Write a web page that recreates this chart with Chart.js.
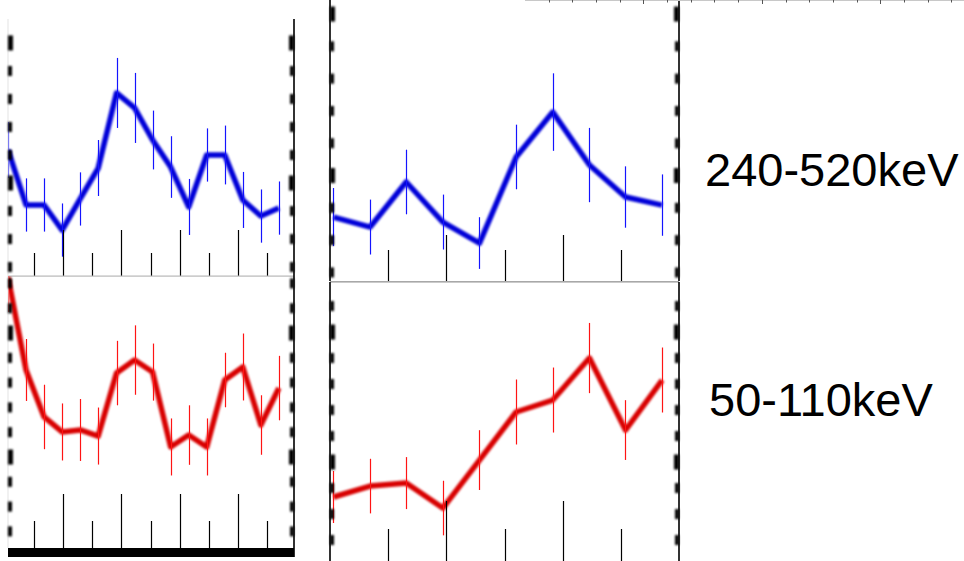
<!DOCTYPE html>
<html>
<head>
<meta charset="utf-8">
<script src="https://cdn.jsdelivr.net/npm/chart.js@4/dist/chart.umd.min.js"></script>
<style>
  html, body { margin: 0; padding: 0; background: #fff; width: 964px; height: 561px; overflow: hidden; }
  canvas { position: absolute; }
  .band { position: absolute; font-family: "Liberation Sans", Arial, sans-serif; font-size: 47px; line-height: 47px; color: #000; white-space: nowrap; }
</style>
</head>
<body>
<canvas id="tl"></canvas>
<canvas id="bl"></canvas>
<canvas id="tr"></canvas>
<canvas id="br"></canvas>
<canvas id="strip"></canvas>
<div class="band" id="band0" style="left:705px; top:146px;"></div>
<div class="band" id="band1" style="left:709px; top:376px;"></div>
<script>
// Energy band names shown at the right of each row
const bandLabels = ['240-520keV', '50-110keV'];

// Burst A: bin-centre times (s)
const burstATime = [0.10, 0.72, 1.34, 1.96, 2.58, 3.20, 3.83, 4.45, 5.07, 5.69, 6.31, 6.93, 7.55, 8.17, 8.79, 9.41];
// Burst A, 240-520 keV counts and 1-sigma errors
const burstAHigh    = [223.6, 184.3, 184.3, 166.4, 188.6, 210.7, 264.3, 253.6, 230.7, 211.4, 182.9, 220.0, 220.0, 187.9, 176.4, 182.1];
const burstAHighErr = [20, 19, 19, 19, 19, 20, 25, 25, 21, 22, 20, 19, 21, 20, 19, 19];
// Burst A, 50-110 keV counts and 1-sigma errors
const burstALow     = [545.0, 470.2, 432.3, 420.2, 421.8, 416.9, 467.7, 478.2, 468.5, 408.1, 417.7, 408.1, 462.1, 472.6, 425.8, 455.6];
const burstALowErr  = [28, 25, 26, 23, 25, 23, 26, 28, 23, 23, 24, 23, 22, 27, 24, 26];

// Burst B: bin-centre times (s)
const burstBTime = [0.06, 0.69, 1.31, 1.94, 2.57, 3.20, 3.83, 4.46, 5.08, 5.71];
// Burst B, 240-520 keV counts and 1-sigma errors
const burstBHigh    = [174.3, 168.1, 196.0, 171.2, 158.2, 211.5, 239.3, 206.5, 186.7, 181.7];
const burstBHighErr = [18, 17, 20, 17, 16, 20, 24, 23, 19, 19];
// Burst B, 50-110 keV counts and 1-sigma errors
const burstBLow     = [373.1, 381.5, 383.8, 364.6, 401.5, 438.5, 447.7, 480.0, 424.6, 463.1];
const burstBLowErr  = [20, 21, 20, 21, 23, 25, 25, 27, 23, 25];

document.getElementById('band0').textContent = bandLabels[0];
document.getElementById('band1').textContent = bandLabels[1];

const PAD = 14;
const X_STEP = 1, X_MAJOR = 2;
const Y_STEP = 20, Y_MAJOR = 100;

function onStep(v, step) {
  const r = v / step;
  return Math.abs(r - Math.round(r)) < 1e-6;
}

// Soft line, error bars, and the inward-pointing frame ticks
const panelPlugin = {
  id: 'panelFrame',
  beforeDatasetsDraw(chart) {
    chart.ctx.save();
    chart.ctx.filter = 'blur(1.3px)';
  },
  afterDatasetsDraw(chart, args, opts) {
    const ctx = chart.ctx;
    ctx.restore();
    const xs = chart.scales.x, ys = chart.scales.y;
    const a = chart.chartArea;
    // error bars
    if (opts.err) {
      ctx.save();
      ctx.beginPath();
      ctx.rect(a.left, a.top, a.right - a.left, a.bottom - a.top);
      ctx.clip();
      ctx.strokeStyle = opts.color;
      ctx.lineWidth = 1.2;
      const ds = chart.data.datasets[0].data;
      ds.forEach((pt, i) => {
        const px = Math.round(xs.getPixelForValue(pt.x)) + 0.5;
        ctx.beginPath();
        ctx.moveTo(px, ys.getPixelForValue(pt.y + opts.err[i]));
        ctx.lineTo(px, ys.getPixelForValue(pt.y - opts.err[i]));
        ctx.stroke();
      });
      ctx.restore();
    }
  },
  afterDraw(chart, args, opts) {
    const ctx = chart.ctx;
    const a = chart.chartArea;
    const xs = chart.scales.x, ys = chart.scales.y;
    ctx.save();
    // bottom-axis ticks pointing up into the plot
    if (opts.xTicks) {
      const t = opts.xTicks;
      ctx.strokeStyle = '#000';
      ctx.lineWidth = 1.2;
      xs.ticks.forEach(tk => {
        const v = tk.value;
        if (!onStep(v, X_STEP) || v <= xs.min || v >= xs.max) return;
        const len = onStep(v, X_MAJOR) ? t.major : t.minor;
        const px = Math.round(xs.getPixelForValue(v)) + 0.5;
        ctx.beginPath();
        ctx.moveTo(px, a.bottom);
        ctx.lineTo(px, a.bottom - len);
        ctx.stroke();
      });
    }
    // bottom edge
    if (opts.bottom) {
      ctx.fillStyle = opts.bottom.color;
      ctx.fillRect(a.left, a.bottom - opts.bottom.up, a.right - a.left, opts.bottom.size);
    }
    // vertical edges
    (opts.sides || []).forEach(s => {
      const x = s.side === 'left' ? a.left : a.right;
      if (s.line) {
        ctx.fillStyle = s.line;
        ctx.fillRect(x - s.lineWidth / 2, a.top, s.lineWidth, a.bottom - a.top + (s.lineExtra || 0));
      }
      // blurred tick blobs on the value axis
      ctx.save();
      ctx.filter = 'blur(1.3px)';
      ctx.fillStyle = '#000';
      ys.ticks.forEach(tk => {
        const v = tk.value;
        if (!onStep(v, Y_STEP) || v <= ys.min || v >= ys.max) return;
        const major = onStep(v, Y_MAJOR);
        const w = major ? 5 : 4;
        const h = major ? 15 : 10;
        const py = ys.getPixelForValue(v);
        const x0 = s.side === 'left' ? x : x - w;
        ctx.fillRect(x0, py - h / 2, w, h);
      });
      ctx.restore();
    });
    ctx.restore();
  }
};

function makePanel(p) {
  const canvas = document.getElementById(p.id);
  canvas.width = p.w + 2 * PAD;
  canvas.height = p.h + 2 * PAD;
  canvas.style.left = (p.left - PAD) + 'px';
  canvas.style.top = (p.top - PAD) + 'px';
  new Chart(canvas, {
    type: 'line',
    data: {
      datasets: [{
        data: p.time.map((t, i) => ({ x: t, y: p.values[i] })),
        borderColor: p.color,
        borderWidth: 5.5,
        borderJoinStyle: 'round',
        pointRadius: 0,
        tension: 0,
        fill: false,
        clip: { left: 0, top: 0, right: 6, bottom: 6 }
      }]
    },
    options: {
      responsive: false,
      animation: false,
      devicePixelRatio: 1,
      parsing: false,
      normalized: true,
      layout: { padding: PAD },
      plugins: {
        legend: { display: false },
        tooltip: { enabled: false },
        panelFrame: {
          err: p.err, color: p.barColor,
          xTicks: p.xTicks, bottom: p.bottom, sides: p.sides
        }
      },
      scales: {
        x: { type: 'linear', display: false, min: p.xMin, max: p.xMax, ticks: { stepSize: X_STEP, includeBounds: false } },
        y: { type: 'linear', display: false, min: p.yMin, max: p.yMax, ticks: { stepSize: Y_STEP, includeBounds: false } }
      }
    },
    plugins: [panelPlugin]
  });
}

const BLUE = '#0000d8', RED = '#d80000';

makePanel({
  id: 'tl', left: 8, top: 19, w: 286, h: 257,
  time: burstATime, values: burstAHigh, err: burstAHighErr,
  color: BLUE, barColor: '#1414ff',
  xMin: 0.10, xMax: 9.93, yMin: 133.6, yMax: 317.1,
  xTicks: { minor: 23, major: 46 },
  bottom: { color: '#b8b8b8', up: 0.5, size: 1.2 },
  sides: [
    { side: 'left', line: '#e4e4e4', lineWidth: 1 },
    { side: 'right', line: '#000', lineWidth: 1.6 }
  ]
});

makePanel({
  id: 'bl', left: 8, top: 276, w: 286, h: 272,
  time: burstATime, values: burstALow, err: burstALowErr,
  color: RED, barColor: '#ff1414',
  xMin: 0.10, xMax: 9.93, yMin: 326.6, yMax: 546.0,
  xTicks: { minor: 27, major: 54 },
  bottom: { color: '#000', up: 0, size: 9 },
  sides: [
    { side: 'left', line: '#e4e4e4', lineWidth: 1 },
    { side: 'right', line: '#000', lineWidth: 1.6, lineExtra: 9 }
  ]
});

makePanel({
  id: 'tr', left: 330, top: 0, w: 349, h: 281,
  time: burstBTime, values: burstBHigh, err: burstBHighErr,
  color: BLUE, barColor: '#1414ff',
  xMin: 0, xMax: 6, yMin: 134.7, yMax: 308.7,
  xTicks: { minor: 31, major: 46 },
  bottom: { color: '#a8a8a8', up: 0, size: 1.6 },
  sides: [
    { side: 'left', line: '#000', lineWidth: 1.6 },
    { side: 'right', line: '#000', lineWidth: 1.6 }
  ]
});

makePanel({
  id: 'br', left: 330, top: 282, w: 349, h: 280,
  time: burstBTime, values: burstBLow, err: burstBLowErr,
  color: RED, barColor: '#ff1414',
  xMin: 0, xMax: 6, yMin: 323.1, yMax: 538.5,
  xTicks: { minor: 33, major: 61 },
  bottom: { color: '#000', up: 0, size: 1.6 },
  sides: [
    { side: 'left', line: '#000', lineWidth: 1.6 },
    { side: 'right', line: '#000', lineWidth: 1.6 }
  ]
});

// Time axis of the panel row above, cut by the top edge
(function () {
  const canvas = document.getElementById('strip');
  canvas.width = 470; canvas.height = 8;
  canvas.style.left = '505px'; canvas.style.top = '0px';
  new Chart(canvas, {
    type: 'line',
    data: { datasets: [] },
    options: {
      responsive: false, animation: false, devicePixelRatio: 1,
      layout: { padding: { left: 20, right: 0, top: 0, bottom: 0 } },
      plugins: { legend: { display: false }, tooltip: { enabled: false } },
      scales: {
        x: { type: 'linear', display: false, min: 0, max: 38, ticks: { stepSize: 1, includeBounds: false } },
        y: { display: false, min: 0, max: 1 }
      }
    },
    plugins: [{
      id: 'topStrip',
      afterDraw(chart) {
        const ctx = chart.ctx, xs = chart.scales.x, a = chart.chartArea;
        ctx.save();
        ctx.fillStyle = '#c8c8c8';
        ctx.fillRect(a.left, 0, a.right - a.left, 1);
        ctx.strokeStyle = '#555';
        ctx.lineWidth = 1;
        xs.ticks.forEach(tk => {
          if (!onStep(tk.value, 1) || tk.value <= 0) return;
          const px = Math.round(xs.getPixelForValue(tk.value)) + 0.5;
          const len = onStep(tk.value, 5) ? 4 : 2.5;
          ctx.beginPath();
          ctx.moveTo(px, 0);
          ctx.lineTo(px, len);
          ctx.stroke();
        });
        ctx.restore();
      }
    }]
  });
})();
</script>
</body>
</html>
